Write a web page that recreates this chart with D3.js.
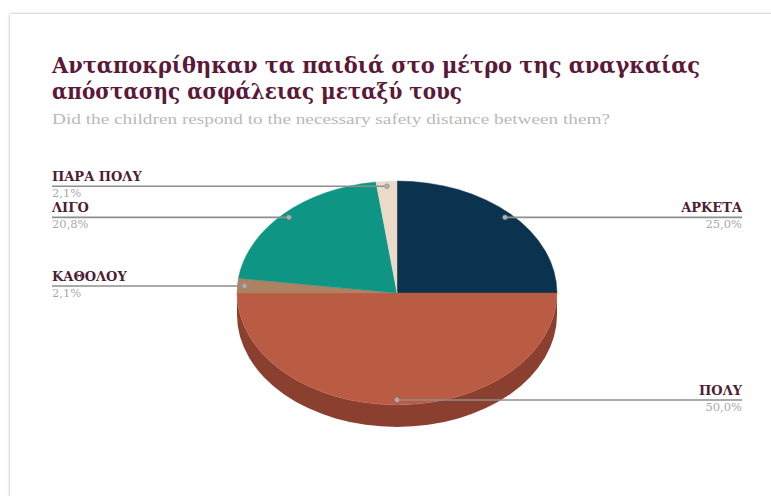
<!DOCTYPE html>
<html><head><meta charset="utf-8">
<script src="https://cdn.jsdelivr.net/npm/d3@7"></script>
<style>html,body{margin:0;padding:0;background:#fff;}svg{display:block;}</style>
</head><body><svg id="c" width="771" height="496"></svg>
<script>
const categories = ["ΑΡΚΕΤΑ", "ΠΟΛΥ", "ΚΑΘΟΛΟΥ", "ΛΙΓΟ", "ΠΑΡΑ ΠΟΛΥ"];
const values = [25.0, 50.0, 2.1, 20.8, 2.1];
const percentLabels = ["25,0%", "50,0%", "2,1%", "20,8%", "2,1%"];
const colors = ["#0b3350", "#b95c43", "#ad8263", "#0f9584", "#ecdac8"];
const sideColors = ["#062036", "#8b3f2f", "#7e5a40", "#09695c", "#bfae9c"];
const title = ["Ανταποκρίθηκαν τα παιδιά στο μέτρο της αναγκαίας", "απόστασης ασφάλειας μεταξύ τους"];
const subtitle = "Did the children respond to the necessary safety distance between them?";

const svg = d3.select("#c");
const defs = svg.append("defs");
const f = defs.append("filter").attr("id","sh").attr("x","-5%").attr("y","-5%").attr("width","110%").attr("height","110%");
f.append("feDropShadow").attr("dx",0).attr("dy",0).attr("stdDeviation",1.6).attr("flood-color","#000").attr("flood-opacity",0.35);
svg.append("rect").attr("x",10).attr("y",14).attr("width",820).attr("height",560).attr("fill","#fff").attr("filter","url(#sh)");

// title
const tcol = "#5b1838";
const titleG = svg.append("g");
function fitText(sel, w){ const n=sel.node(); const l=n.getComputedTextLength(); if (Math.abs(l-w)>2) sel.attr("textLength", w).attr("lengthAdjust","spacingAndGlyphs"); }
const tfont = "'DejaVu Serif Condensed', 'DejaVu Serif', serif";
const t1 = titleG.append("text").attr("x",52).attr("y",73).text(title[0])
  .attr("font-family",tfont).attr("font-weight","bold").attr("font-size",22).attr("fill",tcol);
fitText(t1, 648);
const t2 = titleG.append("text").attr("x",52).attr("y",99).text(title[1])
  .attr("font-family",tfont).attr("font-weight","bold").attr("font-size",22).attr("fill",tcol);
fitText(t2, 410);
const st = svg.append("text").attr("x",52).attr("y",124).text(subtitle)
  .attr("font-family","'Liberation Serif', serif").attr("font-size",15.5).attr("fill","#b9b9b9");
fitText(st, 558);

// pie
const cx = 397, cy = 293, rx = 160, ry = 112, depth = 22;
const pie = d3.pie().sort(null).value(d => d)(values);
const color = d3.scaleOrdinal().domain(categories).range(colors);
const sideColor = d3.scaleOrdinal().domain(categories).range(sideColors);
const P = a => [cx + rx*Math.sin(a), cy - ry*Math.cos(a)];

// side walls (visible between pi/2 and 3pi/2)
const sideG = svg.append("g");
pie.forEach((d,i) => {
  const a0 = Math.max(d.startAngle, Math.PI/2), a1 = Math.min(d.endAngle, 3*Math.PI/2);
  if (a1 <= a0) return;
  const p0 = P(a0), p1 = P(a1);
  const large = (a1-a0) > Math.PI ? 1 : 0;
  const path = `M${p0[0]},${p0[1]} A${rx},${ry} 0 ${large} 1 ${p1[0]},${p1[1]} L${p1[0]},${p1[1]+depth} A${rx},${ry} 0 ${large} 0 ${p0[0]},${p0[1]+depth} Z`;
  sideG.append("path").attr("d",path).attr("fill",sideColor(categories[i]));
});

// top surface
const arc = d3.arc().innerRadius(0).outerRadius(rx);
const topG = svg.append("g").attr("transform",`translate(${cx},${cy}) scale(1,${ry/rx})`);
topG.selectAll("path").data(pie).join("path").attr("d",arc)
  .attr("fill",(d,i)=>color(categories[i])).attr("stroke",(d,i)=>color(categories[i])).attr("stroke-width",0.5);

// labels
const lcol = "#4e1d35";
const leftX = 52, rightX = 742;
const labG = svg.append("g");
pie.forEach((d,i) => {
  const mid = (d.startAngle + d.endAngle)/2;
  const px = cx + 0.955*rx*Math.sin(mid), py = cy - 0.955*ry*Math.cos(mid);
  const left = px < cx - 2;
  const lx = left ? leftX : rightX;
  labG.append("line").attr("x1",lx).attr("x2",px).attr("y1",py).attr("y2",py)
    .attr("stroke","#8e8e8e").attr("stroke-width",1.6);
  labG.append("circle").attr("cx",px).attr("cy",py).attr("r",2.4).attr("fill","#b0b0b0").attr("stroke","#8e8e8e").attr("stroke-width",0.6);
  labG.append("text").attr("x",lx).attr("y",py-5).attr("text-anchor",left?"start":"end")
    .attr("font-family","'DejaVu Serif', serif").attr("font-weight","bold").attr("font-size",13).attr("fill",lcol)
    .text(categories[i]);
  labG.append("text").attr("x",lx).attr("y",py+11).attr("text-anchor",left?"start":"end")
    .attr("font-family","'DejaVu Serif', serif").attr("font-size",11.5).attr("fill","#a9a9a9")
    .text(percentLabels[i]);
});
</script></body></html>
